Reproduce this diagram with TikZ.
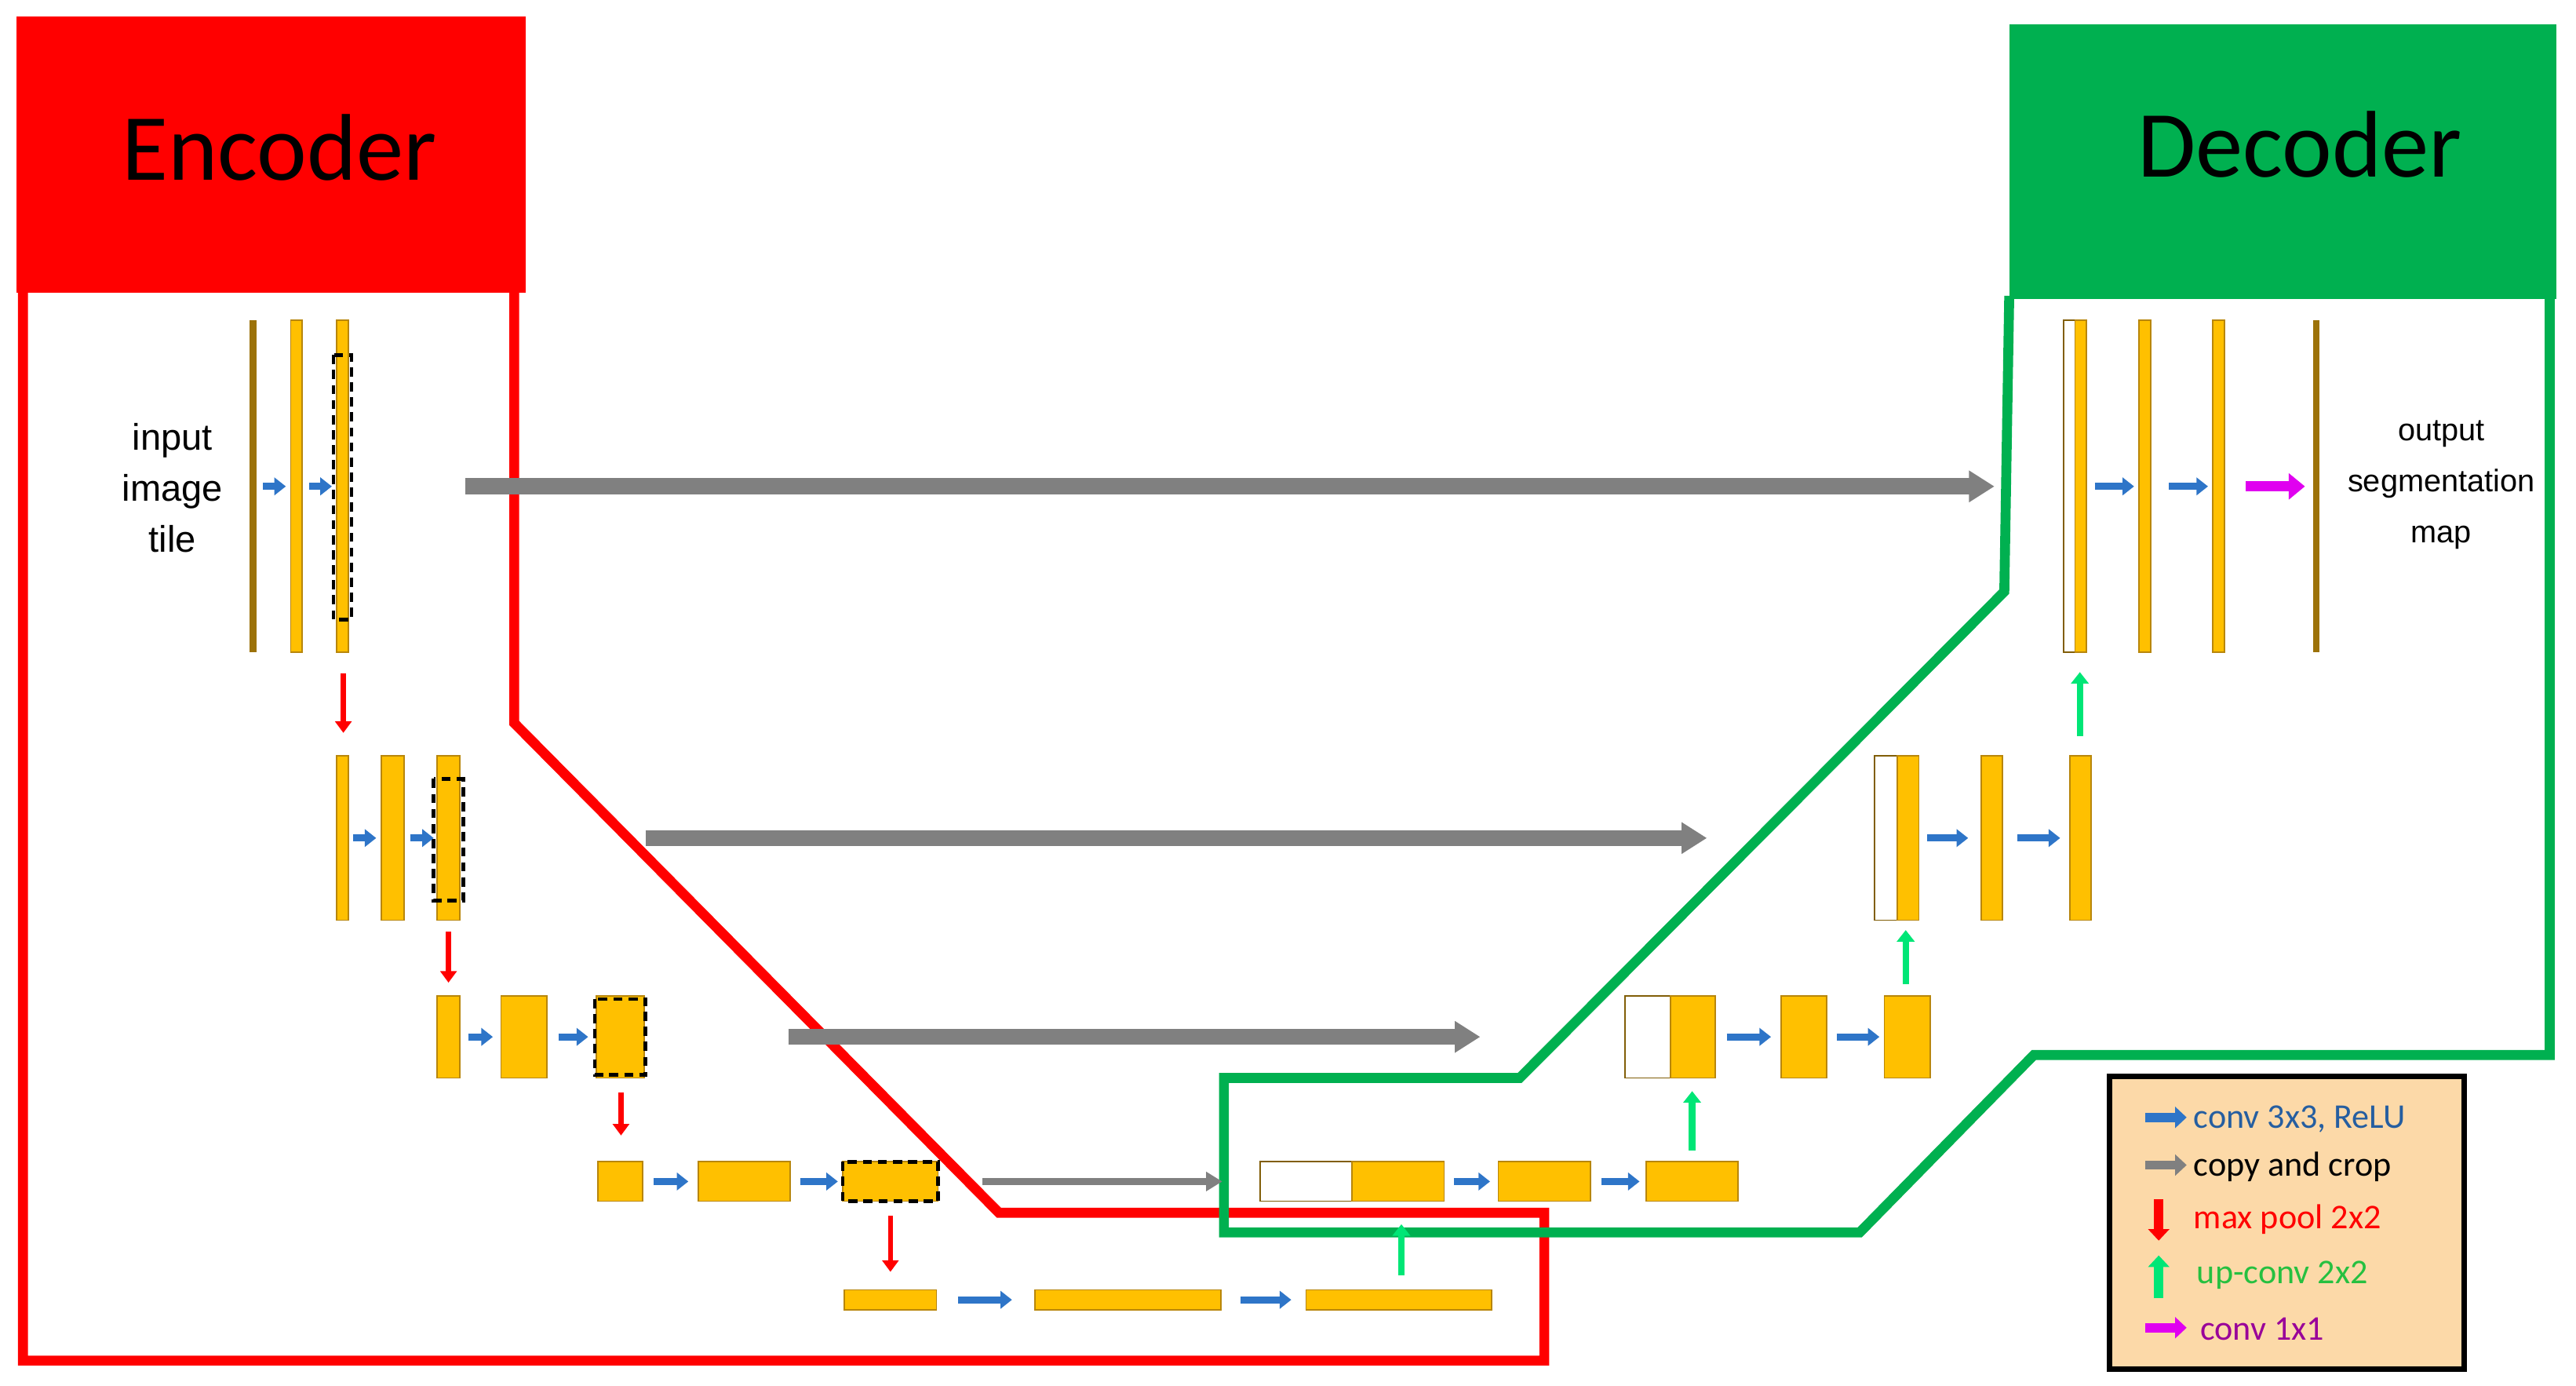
\documentclass[tikz,border=0pt]{standalone}
\usepackage{fontspec}
\setmainfont{Carlito}
\newfontfamily\arialf{Liberation Sans}
\usetikzlibrary{arrows.meta}
\definecolor{fmy}{HTML}{FFC000}
\definecolor{fmb}{HTML}{B8860B}
\definecolor{encred}{HTML}{FF0000}
\definecolor{decgreen}{HTML}{00B050}
\definecolor{arblue}{HTML}{2E75C8}
\definecolor{argray}{HTML}{808080}
\definecolor{argreen}{HTML}{00E676}
\definecolor{armag}{HTML}{E000F0}
\definecolor{legbg}{HTML}{FCD9A8}
\tikzset{
 fm/.style={fill=fmy,draw=fmb,line width=0.6pt},
 fmw/.style={fill=white,draw=fmb!70!black,line width=0.6pt},
 crop/.style={draw=black,dashed,line width=1.6pt,dash pattern=on 4pt off 2.5pt},
 conv/.style={draw=arblue,line width=3pt,-{Triangle[length=5pt,width=7.5pt]}},
 copyc/.style={draw=argray,line width=#1,-{Triangle[length=11pt,width=13pt]}},
 pool/.style={draw=encred,line width=2.2pt,-{Triangle[length=5pt,width=7pt]}},
 upc/.style={draw=argreen,line width=2.8pt,-{Triangle[length=5pt,width=7.5pt]}},
 onec/.style={draw=armag,line width=4.5pt,-{Triangle[length=7pt,width=11pt]}},
 legar/.style={line width=4pt,-{Triangle[length=5pt,width=9pt]}},
}
\begin{document}
\begin{tikzpicture}[x=0.25mm,y=-0.25mm]
\useasboundingbox (0,0) rectangle (1568,843);
% headers
\node[fill=encred,minimum width=310*0.25mm,minimum height=168*0.25mm,inner sep=0] (enc) at (165,94) {};
\node (enct) at (170,90) {\fontsize{41}{45}\selectfont Encoder};
\node[fill=decgreen,minimum width=333*0.25mm,minimum height=167*0.25mm,inner sep=0] (dec) at (1389.5,98.5) {};
\node (dect) at (1400,88) {\fontsize{41}{45}\selectfont Decoder};
% outlines
\draw[encred,line width=4.3pt,line join=miter] (14,176) -- (14,828) -- (940,828) -- (940,738) -- (608,738) -- (313,440) -- (313,176);
\draw[decgreen,line width=4.3pt] (1223,180) -- (1220,360) -- (925,656) -- (745,656) -- (745,750) -- (1132,750) -- (1238,642) -- (1552,642) -- (1552,180);
% level 1 encoder
\fill[fmb!85!black] (152,195) rectangle (156,397);
\draw[fm] (177,195) rectangle (184,397);
\draw[fm] (205,195) rectangle (212,397);
\draw[crop] (203,216) rectangle (214,377);
\draw[conv] (160,296) -- (174,296);
\draw[conv] (188,296) -- (202,296);
\node[font=\arialf\fontsize{16}{22}\selectfont,align=center] (in) at (105,297) {input\\image\\tile};
\draw[copyc=7pt] (283,296) -- (1214,296);
\draw[pool] (209,410) -- (209,446);
% level 2
\draw[fm] (205,460) rectangle (212,560);
\draw[fm] (232,460) rectangle (246,560);
\draw[fm] (266,460) rectangle (280,560);
\draw[crop] (264,474) rectangle (282,548);
\draw[conv] (215,510) -- (229,510);
\draw[conv] (250,510) -- (264,510);
\draw[copyc=7pt] (393,510) -- (1039,510);
\draw[pool] (273,567) -- (273,598);
% level 3
\draw[fm] (266,606) rectangle (280,656);
\draw[fm] (305,606) rectangle (333,656);
\draw[fm] (363,606) rectangle (392,656);
\draw[crop] (362,608) rectangle (393,654);
\draw[conv] (285,631) -- (300,631);
\draw[conv] (340,631) -- (358,631);
\draw[copyc=7pt] (480,631) -- (901,631);
\draw[pool] (378,665) -- (378,691);
% level 4
\draw[fm] (364,707) rectangle (391,731);
\draw[fm] (425,707) rectangle (481,731);
\draw[fm] (513,707) rectangle (571,731);
\draw[crop] (513,707) rectangle (571,731);
\draw[conv] (398,719) -- (419,719);
\draw[conv] (487,719) -- (510,719);
\draw[draw=argray,line width=3pt,-{Triangle[length=7pt,width=8pt]}] (598,719) -- (744,719);
\draw[pool] (542,740) -- (542,774);
% level 5
\draw[fm] (514,785) rectangle (570,797);
\draw[fm] (630,785) rectangle (743,797);
\draw[fm] (795,785) rectangle (908,797);
\draw[conv] (583,791) -- (616,791);
\draw[conv] (755,791) -- (786,791);
\draw[upc] (853,776) -- (853,745);
% decoder level 4
\draw[fmw] (767,707) rectangle (823,731);
\draw[fm] (823,707) rectangle (879,731);
\draw[fm] (912,707) rectangle (968,731);
\draw[fm] (1002,707) rectangle (1058,731);
\draw[conv] (885,719) -- (907,719);
\draw[conv] (975,719) -- (998,719);
\draw[upc] (1030,700) -- (1030,664);
% decoder level 3
\draw[fmw] (989,606) rectangle (1017,656);
\draw[fm] (1017,606) rectangle (1044,656);
\draw[fm] (1084,606) rectangle (1112,656);
\draw[fm] (1147,606) rectangle (1175,656);
\draw[conv] (1051,631) -- (1078,631);
\draw[conv] (1118,631) -- (1144,631);
\draw[upc] (1160,599) -- (1160,566);
% decoder level 2
\draw[fmw] (1141,460) rectangle (1155,560);
\draw[fm] (1155,460) rectangle (1168,560);
\draw[fm] (1206,460) rectangle (1219,560);
\draw[fm] (1260,460) rectangle (1273,560);
\draw[conv] (1173,510) -- (1198,510);
\draw[conv] (1228,510) -- (1254,510);
\draw[upc] (1266,448) -- (1266,409);
% decoder level 1
\draw[fmw] (1256,195) rectangle (1263,397);
\draw[fm] (1263,195) rectangle (1270,397);
\draw[fm] (1302,195) rectangle (1309,397);
\draw[fm] (1347,195) rectangle (1354,397);
\fill[fmb!85!black] (1408,195) rectangle (1412,397);
\draw[conv] (1275,296) -- (1299,296);
\draw[conv] (1320,296) -- (1344,296);
\draw[onec] (1367,296) -- (1403,296);
\node[font=\arialf\fontsize{13.5}{22}\selectfont,align=center] (out) at (1486,295) {output\\segmentation\\map};
% legend
\node[fill=legbg,draw=black,line width=2.3pt,minimum width=216*0.25mm,minimum height=178*0.25mm,inner sep=0] (leg) at (1392,744) {};
\draw[legar,arblue] (1306,680) -- (1331,680);
\node[anchor=west,text=arblue!80!black,font=\fontsize{15}{18}\selectfont,inner sep=0] (l1) at (1335,681) {conv 3x3, ReLU};
\draw[legar,argray] (1306,709) -- (1331,709);
\node[anchor=west,font=\fontsize{15}{18}\selectfont,inner sep=0] (l2) at (1335,710) {copy and crop};
\draw[legar,encred] (1314,730) -- (1314,755);
\node[anchor=west,text=encred,font=\fontsize{15}{18}\selectfont,inner sep=0] (l3) at (1335,742) {max pool 2x2};
\draw[legar,argreen] (1314,790) -- (1314,764);
\node[anchor=west,text=decgreen!80!lime,font=\fontsize{15}{18}\selectfont,inner sep=0] (l4) at (1337,776) {up-conv 2x2};
\draw[legar,armag] (1306,808) -- (1331,808);
\node[anchor=west,text=violet!80!magenta,font=\fontsize{15}{18}\selectfont,inner sep=0] (l5) at (1339,809) {conv 1x1};
\end{tikzpicture}
\end{document}
